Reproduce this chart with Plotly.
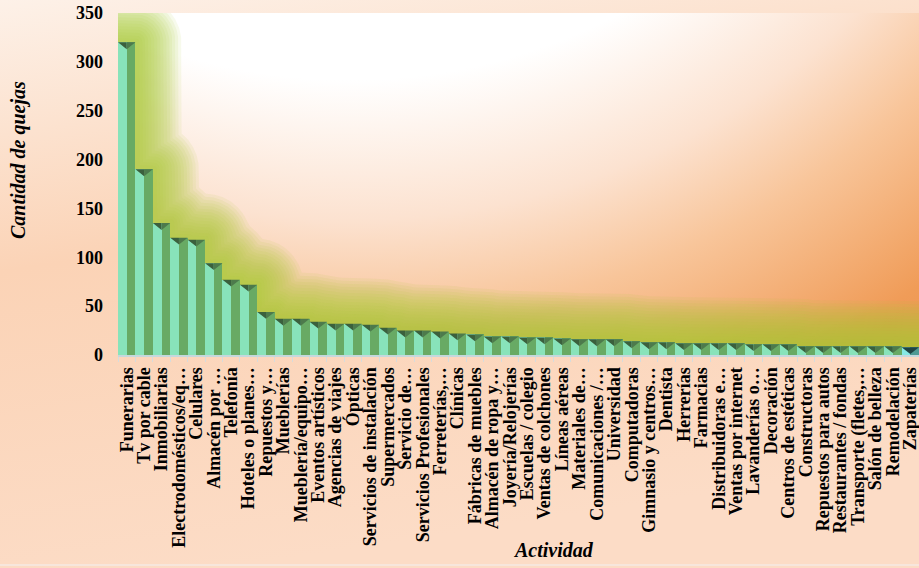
import base64
import math
import plotly.graph_objects as go

categories = [
    "Funerarias", "Tv por cable", "Inmobiliarias", "Electrodomésticos/eq…", "Celulares",
    "Almacén por …", "Telefonía", "Hoteles o planes…", "Repuestos y…", "Mueblerías",
    "Mueblería/equipo…", "Eventos artísticos", "Agencias de viajes", "Ópticas",
    "Servicios de instalación", "Supermercados", "Servicio de…", "Servicios Profesionales",
    "Ferreterías,…", "Clínicas", "Fábricas de muebles", "Almacén de ropa y…",
    "Joyería/Relojerías", "Escuelas / colegio", "Ventas de colchones", "Líneas aéreas",
    "Materiales de…", "Comunicaciones /…", "Universidad", "Computadoras",
    "Gimnasio y centros…", "Dentista", "Herrerías", "Farmacias", "Distribuidoras e…",
    "Ventas por internet", "Lavanderías o…", "Decoración", "Centros de estéticas",
    "Constructoras", "Repuestos para autos", "Restaurantes / fondas", "Transporte (fletes,…",
    "Salón de belleza", "Remodelación", "Zapaterías",
]
quejas = [
    320, 190, 135, 120, 118, 94, 77, 72, 44, 37,
    37, 34, 32, 32, 31, 28, 25, 25, 24, 22,
    21, 19, 19, 18, 18, 17, 16, 16, 16, 14,
    13, 13, 12, 12, 12, 12, 11, 11, 11, 9,
    9, 9, 9, 9, 9, 8,
]
y_ticks = [0, 50, 100, 150, 200, 250, 300, 350]

W, H = 919, 568
L, T, B = 118, 13, 213
PW, PH = W - L, H - T - B
YMAX = 350

# background (paper + plot area gradients)
svg = f'''<svg xmlns="http://www.w3.org/2000/svg" width="{W}" height="{H}" viewBox="0 0 {W} {H}" preserveAspectRatio="none">
<defs>
<linearGradient id="pg" x1="0" y1="0" x2="0.25" y2="1">
<stop offset="0" stop-color="#fdf1e8"/>
<stop offset="0.45" stop-color="#fbd3b6"/>
<stop offset="1" stop-color="#fcdcc6"/>
</linearGradient>
<radialGradient id="ag" gradientUnits="userSpaceOnUse" cx="350" cy="-500" r="1000" fx="350" fy="-500">
<stop offset="0" stop-color="#ffffff"/>
<stop offset="0.58" stop-color="#ffffff"/>
<stop offset="0.72" stop-color="#fce2d0"/>
<stop offset="0.82" stop-color="#f8c59a"/>
<stop offset="0.97" stop-color="#f09c58"/>
<stop offset="1" stop-color="#ef9854"/>
</radialGradient>
</defs>
<rect x="0" y="0" width="{W}" height="{H}" fill="url(#pg)"/>
<rect x="0" y="{H-4}" width="{W}" height="2" fill="#f7e6dc"/>
<rect x="{L}" y="{T}" width="{PW}" height="{PH}" fill="url(#ag)"/>
</svg>'''
uri = "data:image/svg+xml;base64," + base64.b64encode(svg.encode("utf-8")).decode()

n = len(categories)
xs = list(range(n))
fig = go.Figure()

# green glow: soft dilation of the bar silhouette (base subplot, under the bars)
pxc = PW / n          # px per category
pxu = PH / YMAX       # px per unit
grid = [-0.5 + k * 0.025 for k in range(int(n / 0.025) + 1)]
for r in range(46, 1, -3):
    env = []
    for gxv in grid:
        best = 0.0
        for j, v in enumerate(quejas):
            dx = max(0.0, abs(gxv - j) - 0.5) * pxc
            if dx <= r:
                best = max(best, v + math.sqrt(r * r - dx * dx) / pxu)
        env.append(best)
    fig.add_trace(go.Scatter(x=grid, y=env, mode="lines", line=dict(width=0),
                             fill="tozeroy", fillcolor="rgba(172,204,58,0.095)",
                             hoverinfo="skip", showlegend=False, xaxis="x", yaxis="y"))

# bars: left light half, right darker half (last bar highlighted in teal)
left_cols = ["#88e3ba"] * (n - 1) + ["#86e8e4"]
right_cols = ["#68aa64"] * (n - 1) + ["#4f9a94"]
fig.add_trace(go.Bar(x=xs, y=quejas, width=0.5, offset=-0.5,
                     marker=dict(color=left_cols, line=dict(width=0)),
                     showlegend=False, xaxis="x2", yaxis="y2"))
fig.add_trace(go.Bar(x=xs, y=quejas, width=0.5, offset=0,
                     marker=dict(color=right_cols, line=dict(width=0)),
                     showlegend=False, xaxis="x2", yaxis="y2"))

# top triangles
h = 7.0
lx, ly, rx, ry = [], [], [], []
for i, v in enumerate(quejas[:-1]):
    lx += [i - 0.5, i, i, None]
    ly += [v, v, v - h, None]
    rx += [i, i + 0.5, i, None]
    ry += [v, v, v - h, None]
fig.add_trace(go.Scatter(x=lx, y=ly, fill="toself", mode="lines", line=dict(width=0),
                         fillcolor="#3b603d", hoverinfo="skip", showlegend=False,
                         xaxis="x2", yaxis="y2"))
fig.add_trace(go.Scatter(x=rx, y=ry, fill="toself", mode="lines", line=dict(width=0),
                         fillcolor="#4d7a4c", hoverinfo="skip", showlegend=False,
                         xaxis="x2", yaxis="y2"))
k = n - 1
vl = quejas[-1]
fig.add_trace(go.Scatter(x=[k - 0.5, k + 0.5, k, None], y=[vl, vl, vl - h, None],
                         fill="toself", mode="lines", line=dict(width=0),
                         fillcolor="#1f4444", hoverinfo="skip", showlegend=False,
                         xaxis="x2", yaxis="y2"))

serif = "Liberation Serif, Times New Roman, serif"
fig.update_layout(
    width=W, height=H,
    margin=dict(l=L, r=0, t=T, b=B, pad=0),
    paper_bgcolor="#fbd6bb",
    plot_bgcolor="rgba(0,0,0,0)",
    barmode="overlay",
    bargap=0,
    images=[dict(source=uri, xref="paper", yref="paper",
                 x=-L / PW, y=1 + T / PH, sizex=W / PW, sizey=H / PH,
                 xanchor="left", yanchor="top", sizing="stretch", layer="below")],
    xaxis=dict(range=[-0.5, n - 0.5], tickmode="array", tickvals=xs, ticktext=categories,
               tickangle=-90, ticks="", showgrid=False, zeroline=False,
               showline=True, linecolor="#c5d8dc", linewidth=2,
               tickfont=dict(family=serif, size=18, color="black", weight="bold"),
               ticklabelstandoff=3, ticklabeloverflow="allow",
               minor=dict(tick0=-0.5, dtick=1, ticks="outside", ticklen=5,
                          tickcolor="#d6dcdc", tickwidth=1, showgrid=False)),
    yaxis=dict(range=[0, YMAX], tickmode="array", tickvals=y_ticks, showgrid=False,
               zeroline=False, showline=False, ticks="",
               tickfont=dict(family=serif, size=18, color="black", weight="bold"),
               ticklabelstandoff=14),
    xaxis2=dict(range=[-0.5, n - 0.5], overlaying="x", visible=False),
    yaxis2=dict(range=[0, YMAX], overlaying="y", visible=False),
    annotations=[
        dict(text="Cantidad de quejas", xref="paper", yref="paper",
             x=(18 - L) / PW, y=(H - B - 160) / PH, xanchor="center", yanchor="middle",
             textangle=-90, showarrow=False,
             font=dict(family=serif, size=20, color="black", weight="bold", style="italic")),
        dict(text="Actividad", xref="paper", yref="paper",
             x=(553 - L) / PW, y=-(550 - (H - B)) / PH, xanchor="center", yanchor="middle",
             showarrow=False,
             font=dict(family=serif, size=20, color="black", weight="bold", style="italic")),
    ],
)

fig.write_html("out.html", config={"displayModeBar": False},
               post_script="document.body.style.margin='0';document.body.style.overflow='hidden';")
